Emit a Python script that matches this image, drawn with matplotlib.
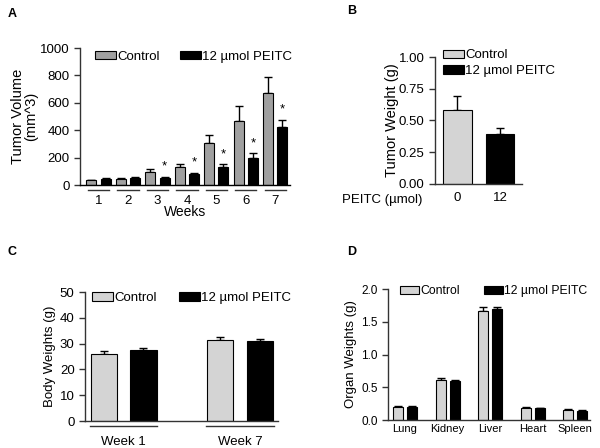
import matplotlib
matplotlib.use("Agg")
import matplotlib.pyplot as plt
from matplotlib.transforms import blended_transform_factory
import numpy as np

plt.rcParams['font.family'] = ['Liberation Sans', 'DejaVu Sans']
plt.rcParams['font.size'] = 9

# data
weeks = ["1", "2", "3", "4", "5", "6", "7"]
vol_ctrl = [35, 42, 95, 130, 310, 465, 675]
vol_ctrl_err = [5, 8, 20, 20, 55, 110, 115]
vol_peitc = [42, 50, 50, 82, 135, 200, 425]
vol_peitc_err = [6, 12, 8, 6, 15, 30, 50]
vol_signif = [False, False, True, True, True, True, True]

tw_doses = ["0", "12"]
tw_mean = [0.58, 0.39]
tw_err = [0.11, 0.05]

bw_groups = ["Week 1", "Week 7"]
bw_ctrl = [25.8, 31.5]
bw_ctrl_err = [1.2, 1.1]
bw_peitc = [27.5, 31.2]
bw_peitc_err = [0.7, 0.7]

organs = ["Lung", "Kidney", "Liver", "Heart", "Spleen"]
org_ctrl = [0.20, 0.61, 1.67, 0.19, 0.15]
org_ctrl_err = [0.01, 0.025, 0.05, 0.015, 0.012]
org_peitc = [0.20, 0.60, 1.69, 0.18, 0.14]
org_peitc_err = [0.008, 0.015, 0.035, 0.01, 0.01]

ctrl_dark = "#a0a0a0"
ctrl_light = "#d4d4d4"
lab_peitc = "12 \u00b5mol PEITC"

fig = plt.figure(figsize=(6, 4.48), dpi=100)


def px_axes(l, t, r, b):
    return fig.add_axes([l / 600, 1 - b / 448, (r - l) / 600, (b - t) / 448])


def style(ax):
    for s in ["top", "right"]:
        ax.spines[s].set_visible(False)
    for s in ["left", "bottom"]:
        ax.spines[s].set_color("#333333")
        ax.spines[s].set_linewidth(1.0)
    ax.tick_params(direction="out", length=4, width=1, color="#333333", labelsize=9.5)


def bars(ax, x, h, e, color, w):
    ax.bar(x, h, w, color=color, edgecolor="black", linewidth=0.8, zorder=2)
    ax.errorbar(x, h, yerr=[np.zeros(len(h)), e], fmt="none", ecolor="black",
                elinewidth=1, capsize=3, capthick=1, zorder=1)


def underline(ax, centers, half, ypos):
    tr = blended_transform_factory(ax.transData, ax.transAxes)
    for c in centers:
        ax.plot([c - half, c + half], [ypos, ypos], color="#333333", lw=1,
                transform=tr, clip_on=False)


def legend(ax, c1, anchor, ncol=2, colsp=1.5, fs=9.5):
    ax.legend([plt.Rectangle((0, 0), 1, 1, fc=c1, ec="black", lw=0.8),
               plt.Rectangle((0, 0), 1, 1, fc="black", ec="black", lw=0.8)],
              ["Control", lab_peitc], ncol=ncol, frameon=False, loc="upper left",
              bbox_to_anchor=anchor, borderpad=0, handlelength=1.6,
              handleheight=0.6, handletextpad=0.1, columnspacing=colsp,
              labelspacing=0.3, fontsize=fs, borderaxespad=0)


# ---- A: tumor volume
axA = px_axes(80, 48, 290, 185)
style(axA)
x = np.arange(1, len(weeks) + 1)
bars(axA, x - 0.24, vol_ctrl, vol_ctrl_err, ctrl_dark, 0.34)
bars(axA, x + 0.24, vol_peitc, vol_peitc_err, "black", 0.34)
for xi, v, e, s in zip(x, vol_peitc, vol_peitc_err, vol_signif):
    if s:
        axA.annotate("*", (xi + 0.24, v + e), xytext=(0, 3), textcoords="offset points",
                     ha="center", va="bottom", fontsize=9.5)
axA.set_xlim(0.37, 7.5)
axA.set_ylim(0, 1000)
axA.set_yticks([0, 200, 400, 600, 800, 1000])
axA.set_xticks(x)
axA.set_xticklabels(weeks)
axA.tick_params(axis="x", length=0, pad=7)
axA.spines["bottom"].set_color("black")
underline(axA, x, 0.36, -0.04)
axA.set_xlabel("Weeks", fontsize=10, labelpad=-1)
axA.set_ylabel("Tumor Volume\n(mm^3)", fontsize=10.5, labelpad=1, linespacing=1.0)
legend(axA, ctrl_dark, (0.071, 0.98), colsp=1.5)

# ---- B: tumor weight
axB = px_axes(435, 57, 522, 184)
style(axB)
xb = np.arange(len(tw_doses))
bars(axB, xb, tw_mean, tw_err, [ctrl_light, "black"], 0.68)
axB.set_xlim(-0.53, 1.52)
axB.set_ylim(0, 1.0)
axB.set_yticks([0, 0.25, 0.5, 0.75, 1.0])
axB.set_yticklabels(["0.00", "0.25", "0.50", "0.75", "1.00"])
axB.set_xticks(xb)
axB.set_xticklabels(tw_doses)
axB.tick_params(axis="x", length=0, pad=6)
axB.set_ylabel("Tumor Weight (g)", fontsize=10.5, labelpad=0)
axB.text(-0.14, -0.125, "PEITC (\u00b5mol)", transform=axB.transAxes, ha="right",
         va="center", fontsize=9.5)
legend(axB, ctrl_light, (0.092, 1.06), ncol=1)

# ---- C: body weights
axC = px_axes(85, 292, 278, 421)
style(axC)
xc = np.arange(len(bw_groups))
bars(axC, xc - 0.17, bw_ctrl, bw_ctrl_err, ctrl_light, 0.224)
bars(axC, xc + 0.17, bw_peitc, bw_peitc_err, "black", 0.224)
axC.set_xlim(-0.333, 1.327)
axC.set_ylim(0, 50)
axC.set_yticks([0, 10, 20, 30, 40, 50])
axC.set_xticks(xc)
axC.set_xticklabels(bw_groups)
axC.tick_params(axis="x", length=0, pad=11)
underline(axC, xc, 0.29, -0.04)
axC.set_ylabel("Body Weights (g)", fontsize=9.5, labelpad=3)
legend(axC, ctrl_light, (0.036, 1.0), colsp=1.65)

# ---- D: organ weights
axD = px_axes(388, 289, 590, 420)
style(axD)
xd = np.arange(len(organs))
bars(axD, xd - 0.165, org_ctrl, org_ctrl_err, ctrl_light, 0.235)
bars(axD, xd + 0.165, org_peitc, org_peitc_err, "black", 0.235)
axD.set_xlim(-0.4, 4.35)
axD.set_ylim(0, 2.0)
axD.set_yticks([0, 0.5, 1.0, 1.5, 2.0])
axD.set_yticklabels(["0.0", "0.5", "1.0", "1.5", "2.0"])
axD.tick_params(axis="y", labelsize=8.5)
axD.set_xticks(xd)
axD.set_xticklabels(organs)
axD.tick_params(axis="x", length=0, pad=3, labelsize=8)
axD.set_ylabel("Organ Weights (g)", fontsize=9.5, labelpad=3)
legend(axD, ctrl_light, (0.059, 1.03), colsp=1.9, fs=8.8)

# panel letters
for lbl, px, py in [("A", 8, 14), ("B", 347, 11), ("C", 8, 252), ("D", 347, 252)]:
    fig.text(px / 600, 1 - py / 448, lbl, fontsize=9, fontweight="bold",
             ha="left", va="center")

fig.savefig("out.png", dpi=100)
